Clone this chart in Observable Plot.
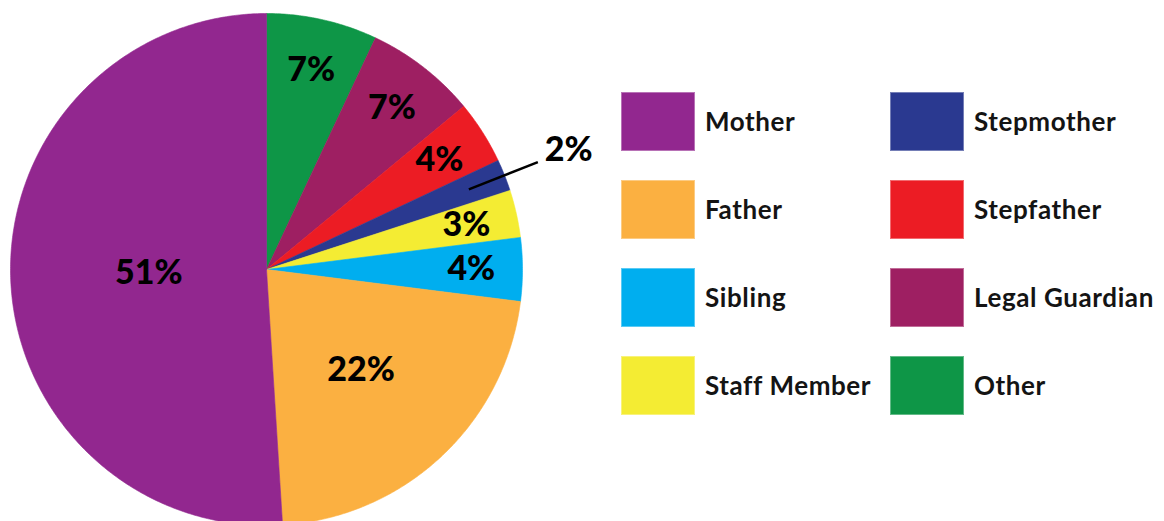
<!DOCTYPE html>
<html>
<head>
<meta charset="utf-8">
<script src="https://cdn.jsdelivr.net/npm/d3@7"></script>
<script src="https://cdn.jsdelivr.net/npm/@observablehq/plot@0.6"></script>
<style>
  html, body { margin: 0; padding: 0; background: #fff; }
  #wrap { position: relative; width: 1164px; height: 521px; overflow: hidden; font-family: Lato, "Open Sans", sans-serif; }
  #chart { position: absolute; left: 0; top: 0; }
  #legend { position: absolute; left: 621px; top: 92px; display: grid; grid-template-columns: 269px 274px; grid-auto-flow: column; grid-template-rows: repeat(4, 88px); }
  .item { display: flex; align-items: flex-start; }
  .sw { width: 74px; height: 59px; box-sizing: border-box; border: 1px solid rgba(255,255,255,0.35); }
  .lab { margin-left: 10px; height: 59px; line-height: 59px; font-size: 26px; font-weight: 700; letter-spacing: 0.6px; color: #141414; white-space: nowrap; }
</style>
</head>
<body>
<div id="wrap">
  <div id="chart"></div>
  <div id="legend"></div>
</div>
<script>
// Slices, clockwise from 12 o'clock
const categories = ["Other", "Legal Guardian", "Stepfather", "Stepmother", "Staff Member", "Sibling", "Father", "Mother"];
const shares = [7, 7, 4, 2, 3, 4, 22, 51];
const colors = ["#0E9647", "#9E1F62", "#EC1C24", "#2A3990", "#F4EC33", "#00AEEF", "#FBB041", "#92278F"];
// Legend order (column-wise)
const legendOrder = ["Mother", "Father", "Sibling", "Staff Member", "Stepmother", "Stepfather", "Legal Guardian", "Other"];

const total = d3.sum(shares);
const slices = [];
let acc = 0;
categories.forEach((name, i) => {
  const a0 = acc / total * 2 * Math.PI;
  acc += shares[i];
  const a1 = acc / total * 2 * Math.PI;
  slices.push({name, share: shares[i], a0, a1, mid: (a0 + a1) / 2});
});

// polygon outlines of each slice (center + arc)
const outline = [];
for (const s of slices) {
  outline.push({name: s.name, x: 0, y: 0});
  const n = Math.max(2, Math.ceil((s.a1 - s.a0) / (Math.PI / 360)));
  for (let k = 0; k <= n; k++) {
    const a = s.a0 + (s.a1 - s.a0) * k / n;
    outline.push({name: s.name, x: Math.sin(a), y: Math.cos(a)});
  }
  outline.push({name: s.name, x: 0, y: 0});
}

const labels = slices.map(s => {
  const outside = s.share < 3;
  const r = outside ? 1.27 : (s.share > 40 ? 0.46 : s.share > 20 ? 0.54 : 0.8);
  return {text: s.share + "%", x: r * Math.sin(s.mid), y: r * Math.cos(s.mid)};
});
const leaders = slices.filter(s => s.share < 3).map(s => ({
  x1: 0.85 * Math.sin(s.mid), y1: 0.85 * Math.cos(s.mid),
  x2: 1.14 * Math.sin(s.mid), y2: 1.14 * Math.cos(s.mid)
}));

const cx = 266, cy = 269, R = 256;
const chart = Plot.plot({
  width: 1164,
  height: 521,
  margin: 0,
  x: {type: "linear", domain: [-1, 1], range: [cx - R, cx + R], axis: null},
  y: {type: "linear", domain: [-1, 1], range: [cy + R, cy - R], axis: null},
  color: {domain: categories, range: colors},
  style: {background: "transparent", overflow: "hidden"},
  marks: [
    Plot.line(outline, {x: "x", y: "y", z: "name", fill: "name", stroke: "name", strokeWidth: 0.6, curve: "linear"}),
    Plot.link(leaders, {x1: "x1", y1: "y1", x2: "x2", y2: "y2", stroke: "#000", strokeWidth: 2.5}),
    Plot.text(labels, {x: "x", y: "y", text: "text", fontSize: 34, fontWeight: 900, fill: "#000", fontFamily: "Lato, sans-serif"})
  ]
});
document.getElementById("chart").appendChild(chart);

const legend = document.getElementById("legend");
for (const name of legendOrder) {
  const item = document.createElement("div");
  item.className = "item";
  const sw = document.createElement("div");
  sw.className = "sw";
  sw.style.background = colors[categories.indexOf(name)];
  const lab = document.createElement("div");
  lab.className = "lab";
  lab.textContent = name;
  item.appendChild(sw);
  item.appendChild(lab);
  legend.appendChild(item);
}
</script>
</body>
</html>
